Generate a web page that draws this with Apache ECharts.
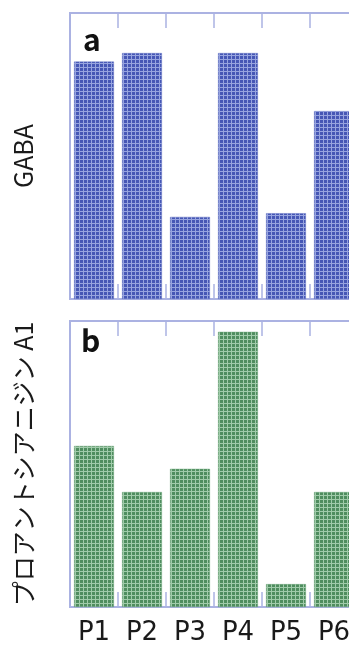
<!DOCTYPE html>
<html>
<head>
<meta charset="utf-8">
<script src="https://cdn.jsdelivr.net/npm/echarts@6/dist/echarts.min.js"></script>
<style>
html, body { margin: 0; padding: 0; overflow: hidden; background: #fff; }
#container0 { width: 380px; height: 650px; }
</style>
</head>
<body>
<div id="container0"></div>
<script>
// data
var categories = ['P1', 'P2', 'P3', 'P4', 'P5', 'P6'];
var gabaValues = [83, 86, 28.7, 86, 30, 65.7];
var proValues = [56.3, 40.2, 48.3, 96.2, 8, 40.2];
var panelLabels = ['a', 'b'];
var axisNames = ['GABA', 'プロアントシアニジン A1'];

var frameColor = '#abb2e2';
var fontFamily = '"Noto Sans CJK JP", "Noto Sans", sans-serif';

// 格子模様のパターン
function makePattern(dark, light) {
    var c = document.createElement('canvas');
    c.width = 4;
    c.height = 4;
    var ctx = c.getContext('2d');
    ctx.fillStyle = light;
    ctx.fillRect(0, 0, 4, 4);
    ctx.fillStyle = dark;
    ctx.fillRect(0, 0, 3, 3);
    return { image: c, repeat: 'repeat' };
}
var bluePattern = makePattern('#4657b5', '#97a4df');
var greenPattern = makePattern('#4f8d5f', '#a0cbaa');

function xAxisPair(gridIndex, showLabels) {
    var tick = { show: true, inside: true, length: 15, interval: 0, lineStyle: { color: frameColor, width: 1.5 } };
    return [
        {
            type: 'category',
            gridIndex: gridIndex,
            position: 'bottom',
            data: categories,
            axisLine: { show: true, lineStyle: { color: frameColor, width: 2 } },
            axisTick: tick,
            axisLabel: {
                show: showLabels,
                color: '#1a1a1a',
                fontSize: 26,
                fontFamily: '"DejaVu Sans", sans-serif',
                margin: 13
            }
        },
        {
            type: 'category',
            gridIndex: gridIndex,
            position: 'top',
            data: categories,
            axisLine: { show: true, lineStyle: { color: frameColor, width: 2 } },
            axisTick: tick,
            axisLabel: { show: false }
        }
    ];
}

function yAxis(gridIndex, name) {
    return {
        type: 'value',
        gridIndex: gridIndex,
        min: 0,
        max: 100,
        name: name,
        nameLocation: 'middle',
        nameGap: 34,
        nameTextStyle: { color: '#1a1a1a', fontSize: 25, fontFamily: fontFamily },
        axisLine: { show: true, lineStyle: { color: frameColor, width: 2 } },
        axisTick: { show: false },
        axisLabel: { show: false },
        splitLine: { show: false }
    };
}

var option = {
    animation: false,
    title: [
        { text: panelLabels[0], left: 78, top: 20, textStyle: { fontSize: 30, fontWeight: 'bold', color: '#111', fontFamily: fontFamily } },
        { text: panelLabels[1], left: 76, top: 321, textStyle: { fontSize: 30, fontWeight: 'bold', color: '#111', fontFamily: fontFamily } }
    ],
    grid: [
        { left: 70, top: 13, width: 288, height: 286, show: true, borderColor: frameColor, borderWidth: 2 },
        { left: 70, top: 321, width: 288, height: 286, show: true, borderColor: frameColor, borderWidth: 2 }
    ],
    xAxis: xAxisPair(0, false).concat(xAxisPair(1, true)),
    yAxis: [yAxis(0, axisNames[0]), yAxis(1, axisNames[1])],
    series: [
        {
            type: 'bar',
            xAxisIndex: 0,
            yAxisIndex: 0,
            barCategoryGap: '17%',
            itemStyle: { color: bluePattern, borderColor: '#6474c4', borderWidth: 0.5 },
            data: gabaValues
        },
        {
            type: 'bar',
            xAxisIndex: 2,
            yAxisIndex: 1,
            barCategoryGap: '17%',
            itemStyle: { color: greenPattern, borderColor: '#6aa478', borderWidth: 0.5 },
            data: proValues
        }
    ]
};

var chart_0 = echarts.init(document.getElementById('container0'));
chart_0.setOption(option);
</script>
</body>
</html>
